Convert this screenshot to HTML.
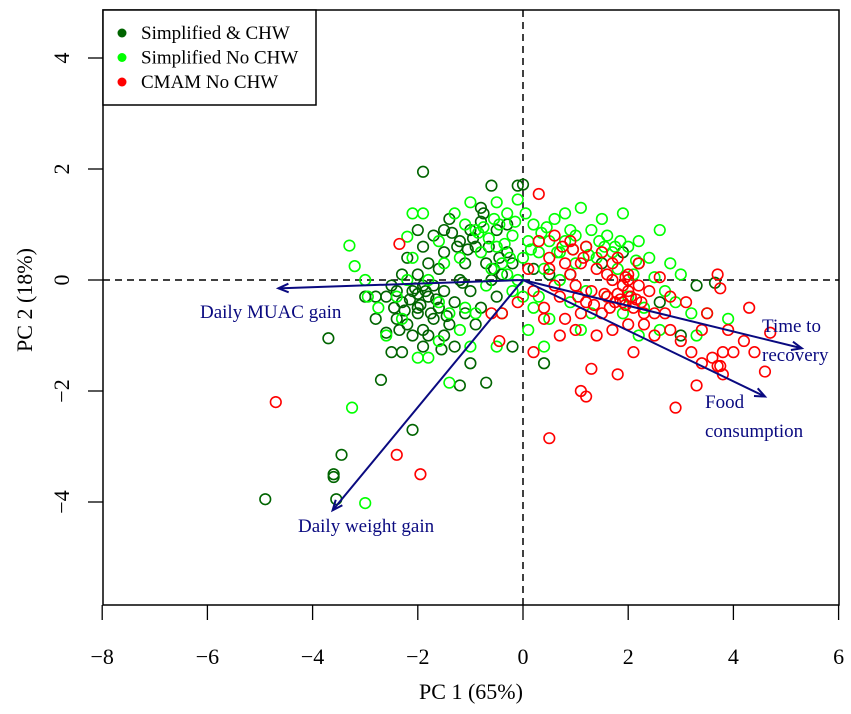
<!DOCTYPE html>
<html><head><meta charset="utf-8"><style>
html,body{margin:0;padding:0;background:#fff;}
svg{display:block;}
</style></head><body>
<svg id="chart" width="851" height="714" xmlns="http://www.w3.org/2000/svg"></svg>
<script>
const xTicks=[-8,-6,-4,-2,0,2,4,6];
const yTicks=[-4,-2,0,2,4];
const seriesNames=["Simplified & CHW","Simplified No CHW","CMAM No CHW"];
const seriesColors=["#006400","#00ff00","#ff0000"];
const darkX=[-1.9,-0.6,-0.1,0,-0.8,-1.4,-1.0,-1.2,-0.9,-0.5,-0.3,-0.7,-1.1,-1.5,-1.7,-2.0,-1.9,-1.6,-2.2,-2.3,-2.5,-2.1,-1.9,-1.8,-1.6,-2.0,-2.3,-2.4,-2.2,-1.9,-1.7,-1.5,-1.3,-1.1,-1.0,-1.2,-2.6,-2.8,-3.0,-2.5,-2.3,-2.7,-1.5,-1.3,-0.8,-0.9,-0.5,-0.4,-0.2,-0.6,-1.8,-2.0,-2.1,-1.9,-3.7,-2.1,-1.2,-0.7,0.4,-4.9,-3.6,-3.6,-3.45,-3.55,-1.0,0.2,0.5,0.9,2.2,1.9,3.3,3.65,2.6,3.0,-0.3,-0.8,-1.5,-2.4,-1.7,-1.4,-2.0,-1.8,-0.2,-2.8,1.5,-2.15,-2.05,-1.95,-1.85,-2.25,-1.75,-2.0,-1.65,-2.35,-1.45,-1.25,-0.95,-0.65,-0.45,-1.05,-1.35,-0.75,-0.55,-2.45,-2.6,-1.55,-1.15];
const darkY=[1.95,1.7,1.7,1.72,1.05,1.1,0.9,0.7,0.6,0.9,0.5,0.3,0.3,0.5,0.8,0.9,0.6,0.2,0.4,0.1,-0.1,-0.2,-0.1,-0.3,-0.5,-0.5,-0.4,-0.7,-0.8,-0.9,-0.7,-0.2,-0.4,-0.6,-0.2,0.0,-0.3,-0.3,-0.3,-1.3,-1.3,-1.8,-1.0,-1.2,-0.5,-0.8,-0.3,0.1,0.3,0.0,0.3,0.1,-1.0,-1.2,-1.05,-2.7,-1.9,-1.85,-1.5,-3.95,-3.5,-3.55,-3.15,-3.95,-1.5,0.2,0.1,0.1,0.3,0.5,-0.1,-0.05,-0.4,-1.0,1.0,1.3,0.9,-0.2,-0.1,-0.8,-0.6,-1.0,-1.2,-0.7,0.3,-0.35,-0.15,-0.45,-0.2,-0.55,-0.6,-0.25,-0.35,-0.9,-0.65,0.6,0.75,0.6,0.4,0.55,0.85,1.2,0.2,-0.5,-0.95,-1.25,-0.05];
const lightX=[-3.0,-3.25,-3.3,-3.2,-3.0,-2.95,-2.75,-2.2,-2.1,-2.0,-1.8,-1.4,-1.1,-1.4,-1.6,-1.2,-1.0,-0.5,-0.4,-0.6,-0.8,-0.5,-0.2,-0.3,-0.5,-0.1,-1.0,-1.3,-2.1,-1.9,-1.8,-2.3,-2.4,-1.6,-0.3,0.0,0.1,0.2,0.3,0.5,0.6,0.8,0.9,1.1,1.2,1.3,1.4,1.6,1.7,1.8,2.0,2.2,2.4,2.1,2.5,2.7,2.9,3.2,3.9,3.3,2.6,2.2,1.9,1.6,1.2,0.9,0.7,0.4,0.3,0.5,0.4,0.1,0.0,1.0,1.5,2.6,2.8,3.0,2.3,1.3,0.2,-0.2,-0.7,-0.9,-1.2,-0.4,1.9,0.7,-2.6,-2.2,-0.9,1.1,3.5,2.0,0.8,-0.1,-1.6,-1.5,-0.65,-0.35,-0.15,-0.75,-0.55,-0.25,0.15,0.35,0.65,0.95,1.25,1.55,1.85,2.15,0.05,-0.45,-1.1,-0.85,0.45,1.0,1.45,1.75];
const lightY=[-4.02,-2.3,0.62,0.25,0.0,-0.3,-0.5,0.78,0.4,-1.4,-1.4,-1.85,-0.5,-0.6,-1.1,-0.9,-1.2,-1.2,-0.6,0.2,0.5,0.6,0.8,1.2,1.4,1.45,1.4,1.2,1.2,1.2,0.0,-0.7,-0.3,-0.4,0.1,0.4,0.7,1.0,0.5,0.7,1.1,1.2,0.9,1.3,0.6,0.9,0.4,0.8,0.5,0.2,0.6,0.7,0.4,0.1,0.05,-0.2,-0.4,-0.6,-0.7,-1.0,-0.9,-1.0,-0.6,-0.3,-0.2,-0.4,0.0,0.2,-0.3,-0.7,-1.2,-0.9,-0.3,0.3,1.1,0.9,0.3,0.1,-0.5,-0.6,-0.5,-0.2,-0.1,0.9,0.4,0.3,1.2,0.5,-1.0,0.0,-0.6,-0.9,-0.6,-0.3,0.7,0.0,0.7,0.3,0.75,0.65,1.05,0.95,1.1,0.4,0.55,0.85,0.5,0.55,0.45,0.6,0.7,0.35,1.2,1.0,1.0,0.85,0.95,0.8,0.7,0.6];
const redX=[-4.7,-2.35,-2.4,-1.95,0.5,0.3,-0.45,1.1,1.2,2.9,4.6,4.7,3.7,4.3,3.75,-0.4,-0.1,-0.6,0.1,0.3,0.6,0.9,1.2,1.5,1.8,2.0,1.7,1.4,1.1,0.8,0.5,0.2,0.4,0.7,1.0,1.3,1.6,1.9,1.8,1.9,2.1,2.4,2.5,2.3,2.0,1.7,1.4,1.0,0.7,0.4,0.2,1.3,1.8,2.5,2.8,3.0,3.2,3.4,3.6,3.8,4.0,4.2,4.4,3.9,3.5,3.1,2.8,2.6,2.2,3.3,3.7,3.75,3.8,2.1,1.5,0.6,0.9,1.2,2.0,2.2,1.6,2.3,1.1,0.8,2.7,3.4,0.5,1.7,2.0,1.95,1.85,1.95,2.05,1.75,1.65,1.55,2.15,2.25,1.35,1.15,0.95,0.75,1.05];
const redY=[-2.2,0.65,-3.15,-3.5,-2.85,1.55,-1.1,-2.0,-2.1,-2.3,-1.65,-0.95,0.1,-0.5,-0.15,-0.6,-0.4,-0.6,0.2,0.7,0.8,0.7,0.6,0.5,0.4,0.1,0.0,0.2,0.3,0.3,0.2,-0.2,-0.5,-0.3,-0.1,-0.2,-0.3,-0.1,-0.25,-0.4,-0.5,-0.2,-0.6,-0.8,-0.8,-0.9,-1.0,-0.9,-1.0,-0.7,-1.3,-1.6,-1.7,-1.0,-0.9,-1.1,-1.3,-1.5,-1.4,-1.3,-1.3,-1.1,-1.3,-0.9,-0.6,-0.4,-0.3,0.05,0.3,-1.9,-1.55,-1.55,-1.7,-1.3,-0.6,-0.1,0.1,-0.4,-0.2,-0.1,0.1,-0.6,-0.6,-0.7,-0.6,-0.9,0.4,0.3,0.0,0.05,-0.35,-0.45,-0.3,-0.4,-0.5,-0.25,-0.35,-0.4,-0.45,0.4,0.55,0.6,-0.3];
const arrowNames=["Daily MUAC gain","Daily weight gain","Time to recovery","Food consumption"];
const arrowX=[-4.65,-3.62,5.3,4.6];
const arrowY=[-0.15,-4.15,-1.23,-2.1];

const NS="http://www.w3.org/2000/svg";
const svg=document.getElementById('chart');
const L=103,R=839,T=10,B=605;
const xS=v=>523+v*52.6;
const yS=v=>280-v*55.5;
function mk(tag,at,parent){const e=document.createElementNS(NS,tag);for(const k in at)e.setAttribute(k,at[k]);(parent||svg).appendChild(e);return e;}
const serif='"Liberation Serif", serif';

let e=mk('line',{x1:L,x2:R,y1:yS(0),y2:yS(0),stroke:'#000','stroke-width':1.5,'stroke-dasharray':'7,5'});


e=mk('line',{x1:xS(0),x2:xS(0),y1:T,y2:B,stroke:'#000','stroke-width':1.5,'stroke-dasharray':'7,5'});



const groups=[[darkX,darkY],[lightX,lightY],[redX,redY]];
groups.forEach((g,gi)=>{
  const grp=mk('g',{});
  
  
  g[0].forEach((x,i)=>{
    const c=mk('circle',{cx:xS(x),cy:yS(g[1][i]),r:5.3,fill:'none',stroke:seriesColors[gi],'stroke-width':1.6},grp);
    
    
  });
});

arrowNames.forEach((n,i)=>{
  const x2=xS(arrowX[i]),y2=yS(arrowY[i]),x1=xS(0),y1=yS(0);
  const a=mk('line',{x1,y1,x2,y2,stroke:'#0a0a80','stroke-width':2});
  
  
  const ang=Math.atan2(y2-y1,x2-x1),h=11;
  const p=`${x2-h*Math.cos(ang-0.4)},${y2-h*Math.sin(ang-0.4)} ${x2},${y2} ${x2-h*Math.cos(ang+0.4)},${y2-h*Math.sin(ang+0.4)}`;
  const ah=mk('polyline',{points:p,fill:'none',stroke:'#0a0a80','stroke-width':2});
  
  
});
function txt(s,x,y,at,name){const t=mk('text',Object.assign({x,y,'font-family':serif,'font-size':19},at));t.textContent=s;return t;}
txt('Daily MUAC gain',200,318,{fill:'#0a0a80'},'label-daily-muac-gain');
txt('Daily weight gain',298,532,{fill:'#0a0a80'},'label-daily-weight-gain');
txt('Time to',762,332,{fill:'#0a0a80'},'label-time-to-recovery');
txt('recovery',762,361,{fill:'#0a0a80'},'label-time-to-recovery-2');
txt('Food',705,408,{fill:'#0a0a80'},'label-food-consumption');
txt('consumption',705,437,{fill:'#0a0a80'},'label-food-consumption-2');

e=mk('rect',{x:L,y:T,width:R-L,height:B-T,fill:'none',stroke:'#000','stroke-width':1.5});



xTicks.forEach(v=>{
  mk('line',{x1:xS(v),x2:xS(v),y1:B,y2:B+15,stroke:'#000','stroke-width':1.3});
  const t=mk('text',{x:xS(v),y:664,'text-anchor':'middle','font-family':serif,'font-size':22});
  t.textContent=(v<0?'\u2212':'')+Math.abs(v);
  
  
});
yTicks.forEach(v=>{
  mk('line',{x1:L-15,x2:L,y1:yS(v),y2:yS(v),stroke:'#000','stroke-width':1.3});
  const t=mk('text',{x:0,y:0,'text-anchor':'middle','font-family':serif,'font-size':22,transform:`translate(69,${yS(v)}) rotate(-90)`});
  t.textContent=(v<0?'\u2212':'')+Math.abs(v);
  
  
});
txt('PC 1 (65%)',471,699,{'text-anchor':'middle','font-size':22,fill:'#000'},'x-axis-title');
txt('PC 2 (18%)',0,0,{'text-anchor':'middle','font-size':22,fill:'#000',transform:'translate(32,300) rotate(-90)'},'y-axis-title');

const lg=mk('g',{});


mk('rect',{x:L,y:T,width:213,height:95,fill:'#fff',stroke:'#000','stroke-width':1.5},lg);
seriesNames.forEach((n,i)=>{
  const y=33+i*24.5;
  mk('circle',{cx:122,cy:y,r:4.5,fill:seriesColors[i]},lg);
  const t=mk('text',{x:141,y:y+6,'font-family':serif,'font-size':19},lg);
  t.textContent=n;
  
  
});
</script>
</body></html>
